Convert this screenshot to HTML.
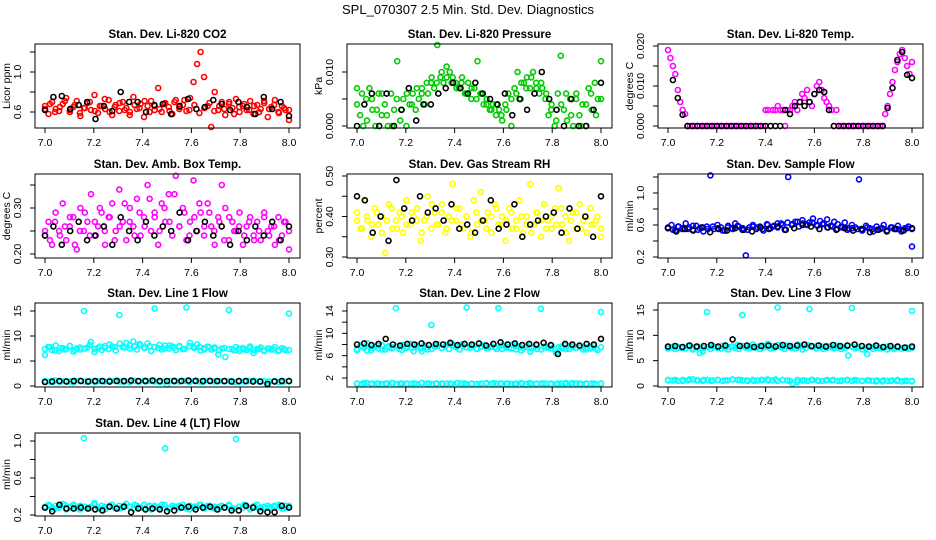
<!DOCTYPE html>
<html><head><meta charset="utf-8">
<style>
html,body{margin:0;padding:0;background:#fff;}
svg{display:block;font-family:"Liberation Sans",Arial,sans-serif;}
</style></head>
<body>
<svg id="chart" width="936" height="540" viewBox="0 0 936 540">
<text x="468" y="14" text-anchor="middle" font-size="13">SPL_070307  2.5 Min. Std. Dev. Diagnostics</text>
</svg>
<script>
// ---------- data ----------
const xTicks = [7.0, 7.2, 7.4, 7.6, 7.8, 8.0];
const xTickLabels = ["7.0", "7.2", "7.4", "7.6", "7.8", "8.0"];
const panelTitles = ["Stan. Dev. Li-820 CO2","Stan. Dev. Li-820 Pressure","Stan. Dev. Li-820 Temp.","Stan. Dev. Amb. Box Temp.","Stan. Dev. Gas Stream RH","Stan. Dev. Sample Flow","Stan. Dev. Line 1 Flow","Stan. Dev. Line 2 Flow","Stan. Dev. Line 3 Flow","Stan. Dev. Line 4 (LT) Flow"];
const yTitles = ["Licor ppm","kPa","degrees C","degrees C","percent","ml/min","ml/min","ml/min","ml/min","ml/min"];

const co2Ticks = [0.6,0.8,1.0,1.2];          const co2TickLabels = ["0.6","","1.0",""];
const presTicks = [0,0.005,0.010];           const presTickLabels = ["0.000","","0.010"];
const tempTicks = [0,0.005,0.010,0.015,0.020]; const tempTickLabels = ["0.000","","0.010","","0.020"];
const ambTicks = [0.20,0.25,0.30,0.35];      const ambTickLabels = ["0.20","","0.30",""];
const rhTicks = [0.30,0.35,0.40,0.45,0.50];  const rhTickLabels = ["0.30","","0.40","","0.50"];
const sfTicks = [0.2,0.4,0.6,0.8,1.0,1.2];   const sfTickLabels = ["0.2","","0.6","","1.0",""];
const l1Ticks = [0,5,10,15];                 const l1TickLabels = ["0","5","10","15"];
const l2Ticks = [2,4,6,8,10,12,14];          const l2TickLabels = ["2","","6","","10","","14"];
const l3Ticks = [0,5,10,15];                 const l3TickLabels = ["0","5","10","15"];
const l4Ticks = [0.2,0.4,0.6,0.8,1.0];       const l4TickLabels = ["0.2","","0.6","","1.0"];

const co2Red = [0.66,0.58,0.70,0.63,0.61,0.68,0.74,0.60,0.65,0.71,0.56,0.64,0.69,0.62,0.77,0.59,0.66,0.63,0.72,0.57,0.67,0.61,0.70,0.64,0.60,0.75,0.63,0.68,0.55,0.66,0.71,0.62,0.84,0.60,0.69,0.65,0.58,0.72,0.63,0.67,0.61,0.74,0.90,1.08,1.20,0.95,0.66,0.45,0.80,0.62,0.70,0.57,0.68,0.64,0.73,0.60,0.66,0.62,0.71,0.58,0.67,0.63,0.69,0.55,0.65,0.72,0.60,0.66,0.62,0.52];
const co2Red2 = [0.63,0.68,0.60,0.65,0.71,0.62,0.67,0.59,0.64,0.70,0.61,0.66,0.73,0.60,0.65,0.69,0.62,0.57,0.67,0.64,0.71,0.60,0.66,0.63,0.68,0.61,0.70,0.65,0.72,0.62,0.67,0.59,0.64,0.69,0.61,0.66,0.63,0.70,0.58,0.65,0.68,0.62,0.66,0.60,0.71,0.63,0.67,0.59,0.64,0.62];
const co2Black = [0.62,0.75,0.76,0.63,0.67,0.70,0.53,0.66,0.61,0.80,0.70,0.70,0.60,0.67,0.68,0.58,0.66,0.73,0.63,0.65,0.72,0.68,0.62,0.70,0.65,0.58,0.75,0.63,0.70,0.56];

const presGreen = [0.007,0.002,0.000,0.005,0.007,0.003,0.000,0.006,0.002,0.004,0.000,0.006,0.003,0.012,0.001,0.005,
0.000,0.004,0.006,0.003,0.005,0.007,0.004,0.006,0.008,0.007,0.015,0.009,0.008,0.011,0.010,0.009,
0.008,0.007,0.009,0.006,0.008,0.005,0.007,0.012,0.006,0.004,0.005,0.003,0.004,0.002,0.003,0.001,
0.004,0.006,0.000,0.007,0.010,0.005,0.008,0.009,0.007,0.010,0.008,0.006,0.007,0.005,0.002,0.004,
0.000,0.006,0.013,0.003,0.001,0.005,0.000,0.006,0.002,0.004,0.000,0.007,0.003,0.008,0.005,0.012];
const presGreen2 = [0.004,0.006,0.001,0.005,0.003,0.006,0.002,0.000,0.005,0.003,0.006,0.004,0.007,0.006,0.008,0.009,0.008,0.010,0.009,0.008,0.007,0.008,0.006,0.007,0.005,0.006,0.004,0.003,0.004,0.002,0.003,0.005,0.006,0.008,0.007,0.009,0.007,0.008,0.006,0.003,0.001,0.004,0.006,0.002,0.005,0.000,0.004,0.006,0.002,0.005];
const presBlack = [0.000,0.004,0.006,0.000,0.006,0.000,0.003,0.007,0.001,0.004,0.004,0.006,0.007,0.008,0.007,0.006,0.008,0.006,0.005,0.004,0.006,0.002,0.005,0.003,0.006,0.010,0.005,0.003,0.000,0.005,0.000,0.000,0.003,0.008];

const tempMagenta = [0.019,0.017,0.015,0.013,0.009,0.006,0.004,0.003,
0,0,0,0,0,0,0,0,0,0,0,0,0,0,0,0,0,0,0,0,0,0,0,0,0,0,0,0,0,0,0,0,
0.004,0.004,0,0.004,0.004,0.005,0.004,0.004,0,0.004,0.004,
0.005,0.006,0.004,0.006,0.008,0.007,0.009,0.006,0.005,0.008,0.010,0.011,0.009,0.007,0.006,0.005,0.004,0,0.004,
0,0,0,0,0,0,0,0,0,0,0,0,0,0,0,0,0,0,0,
0.003,0.005,0.008,0.011,0.014,0.016,0.018,0.019,0.017,0.015,0.013,0.016];
const tempBlack = [null,0.0115,0.007,0.0028,0,0,0,0,0,0,0,0,0,0,0,0,0,0,0,0,0,0,0,0,
0.004,0.003,0.005,0.006,0.005,0.006,0.008,0.009,0.0085,0.004,
0,0,0,0,0,0,0,0,0,0,0,
0.0045,0.0095,0.0165,0.0185,0.0128,0.012];

const ambMagenta = [0.24,0.27,0.22,0.29,0.25,0.31,0.23,0.26,0.28,0.21,0.30,0.25,0.27,0.33,0.24,0.26,0.29,0.22,0.28,0.31,0.25,0.34,0.27,0.23,0.30,0.26,0.32,0.24,0.28,0.35,0.25,0.29,0.22,0.31,0.27,0.33,0.24,0.37,0.26,0.30,0.23,0.27,0.36,0.25,0.29,0.24,0.31,0.26,0.22,0.28,0.35,0.30,0.23,0.27,0.25,0.29,0.22,0.26,0.28,0.24,0.27,0.23,0.29,0.25,0.26,0.22,0.28,0.24,0.27,0.21];
const ambMagenta2 = [0.25,0.23,0.27,0.24,0.26,0.28,0.22,0.25,0.29,0.24,0.27,0.30,0.25,0.28,0.23,0.26,0.31,0.27,0.24,0.29,0.26,0.32,0.28,0.25,0.30,0.27,0.33,0.26,0.29,0.24,0.28,0.31,0.26,0.29,0.25,0.27,0.23,0.28,0.25,0.26,0.24,0.27,0.23,0.25,0.28,0.24,0.26,0.23,0.27,0.25];
const ambBlack = [0.24,0.26,0.22,0.25,0.27,0.23,0.24,0.26,0.22,0.28,0.25,0.23,0.27,0.24,0.26,0.25,0.29,0.23,0.25,0.27,0.24,0.26,0.22,0.25,0.23,0.26,0.24,0.27,0.23,0.26];

const rhYellow = [0.41,0.37,0.44,0.39,0.35,0.42,0.38,0.40,0.31,0.43,0.37,0.39,0.41,0.36,0.44,0.38,0.40,0.42,0.34,0.39,0.45,0.37,0.41,0.38,0.43,0.36,0.40,0.48,0.39,0.42,0.37,0.40,0.35,0.44,0.38,0.46,0.39,0.41,0.36,0.43,0.38,0.40,0.34,0.42,0.37,0.39,0.44,0.36,0.40,0.48,0.38,0.41,0.35,0.43,0.39,0.37,0.42,0.47,0.38,0.40,0.34,0.41,0.37,0.43,0.39,0.36,0.42,0.38,0.40,0.35];
const rhYellow2 = [0.39,0.37,0.40,0.38,0.41,0.36,0.39,0.42,0.37,0.40,0.38,0.41,0.39,0.36,0.40,0.43,0.38,0.41,0.37,0.39,0.42,0.38,0.40,0.36,0.41,0.39,0.37,0.40,0.42,0.38,0.39,0.41,0.37,0.40,0.38,0.36,0.41,0.39,0.37,0.40,0.38,0.42,0.36,0.39,0.41,0.37,0.40,0.38,0.39,0.37];
const rhBlack = [0.45,0.44,0.36,0.40,0.34,0.49,0.42,0.39,0.45,0.41,0.42,0.39,0.43,0.37,0.38,0.36,0.39,0.44,0.37,0.38,0.43,0.35,0.38,0.39,0.40,0.41,0.36,0.42,0.37,0.40,0.35,0.45];

const sfBlue = [0.56,0.60,0.53,0.58,0.55,0.62,0.57,0.54,0.59,0.56,0.52,0.58,1.22,0.55,0.60,0.57,0.53,0.59,0.56,0.62,0.58,0.54,0.22,0.57,0.60,0.55,0.58,0.53,0.61,0.56,0.59,0.57,0.62,0.54,1.20,0.60,0.64,0.58,0.66,0.61,0.63,0.68,0.60,0.65,0.62,0.67,0.59,0.64,0.61,0.58,0.63,0.56,0.60,0.57,1.17,0.54,0.59,0.56,0.52,0.58,0.55,0.60,0.53,0.57,0.55,0.59,0.52,0.56,0.58,0.33];
const sfBlue2 = [0.57,0.54,0.58,0.56,0.55,0.59,0.54,0.57,0.55,0.58,0.56,0.53,0.57,0.55,0.59,0.56,0.54,0.58,0.57,0.55,0.60,0.58,0.62,0.60,0.63,0.61,0.64,0.62,0.60,0.63,0.59,0.61,0.57,0.58,0.55,0.57,0.54,0.56,0.55,0.53,0.57,0.55,0.54,0.56,0.53,0.57,0.55,0.54,0.56,0.55];
const sfBlack = [0.56,0.52,0.55,0.53,0.57,0.51,0.55,0.53,0.56,0.54,0.52,0.57,0.55,0.58,0.54,0.56,0.60,0.58,0.55,0.57,0.54,0.56,0.53,0.55,0.51,0.54,0.52,0.55,0.53,0.56];

const l1CyanHigh = [6.2,7.8,7.2,8.1,7.0,7.6,7.4,8.0,6.9,7.5,7.3,15.0,7.7,8.8,6.8,7.6,7.2,8.0,7.4,7.9,7.1,14.2,7.8,8.6,7.5,8.9,7.3,8.2,7.7,8.5,7.0,15.5,7.6,7.3,8.1,7.5,7.9,7.2,8.0,7.4,15.7,8.6,7.8,8.3,7.1,7.6,7.9,7.3,7.7,6.3,7.5,5.8,15.2,7.4,7.8,7.0,7.6,7.2,7.9,6.6,7.4,7.7,7.1,7.5,7.3,7.8,7.0,7.6,7.2,14.5];
const l1CyanHigh2 = [7.4,7.8,7.1,7.6,7.3,8.0,7.2,7.7,7.5,8.2,7.4,7.9,7.6,8.3,7.8,8.5,7.7,8.1,7.9,8.4,7.6,8.0,7.8,8.2,7.5,8.1,7.7,7.9,7.4,8.0,7.6,7.8,7.3,7.7,7.5,7.2,7.6,7.4,7.1,7.5,7.3,7.6,7.2,7.4,7.0,7.5,7.3,7.1,7.4,7.2];
const l1CyanLow = [0.9,0.8,1.0,0.9,0.7,1.0,0.9,0.8,1.0,0.9,1.1,0.8,1.0,0.9,0.9,1.0,0.8,0.3,0.9,1.0,0.9,1.1,0.8,1.0,0.9,0.9,1.0,0.8,0.9,1.0,0.9,0.8,1.0,0.9,0.9];
const l1CyanLow2 = [1.0,0.9,1.1,0.8,1.0,0.9,1.0,1.1,0.9,1.0,0.8,1.0,0.9,1.1,1.0,0.9,1.0,0.8,1.0,0.9,1.1,1.0,0.9,1.0,0.9,1.0,1.1,0.9,1.0,0.8,1.0,0.9,1.0,1.1,0.9,1.0,0.9,1.0,0.8,1.0,0.9,1.0,1.1,0.9,1.0,0.9,1.0,0.8,0.9,1.0];
const l1Black = [0.8,0.9,1.0,0.9,1.0,1.0,0.9,1.0,1.0,0.9,1.0,1.0,1.1,1.0,1.0,1.1,1.0,1.0,1.0,1.0,1.1,1.0,1.0,1.0,1.0,1.0,0.9,1.0,1.0,0.9,0.9,0.4,0.9,1.0,1.0];

const l2CyanHigh = [7.0,7.8,7.4,8.2,6.9,7.6,7.3,7.9,7.1,7.7,7.5,14.5,7.2,7.9,7.4,8.1,6.8,7.6,7.3,7.8,7.1,11.5,7.6,8.0,7.4,7.7,7.2,7.9,7.5,7.1,7.7,14.6,7.4,7.8,7.2,7.6,7.9,7.3,7.7,7.5,14.5,7.2,7.8,7.4,8.0,7.1,7.6,7.3,7.9,6.7,7.5,7.2,14.4,7.6,7.4,7.8,7.0,7.5,7.3,7.9,7.2,7.6,7.4,7.7,7.1,7.5,7.3,7.8,7.0,13.8];
const l2CyanHigh2 = [7.2,7.6,6.9,7.4,7.8,7.1,7.5,7.3,7.7,7.0,7.6,7.4,7.9,6.8,7.5,7.2,7.7,7.4,7.9,8.2,7.6,8.0,7.5,7.8,7.3,7.7,7.4,7.6,7.2,7.8,7.5,7.3,7.7,6.9,7.6,7.4,7.8,7.1,7.5,7.3,6.5,7.6,7.2,7.8,7.4,7.5,7.1,7.7,7.3,7.5];
const l2CyanLow = [1.0,1.1,0.9,1.0,1.0,1.1,1.0,0.9,1.0,1.1,1.0,1.0,0.9,1.0,1.1,1.0,1.0,0.9,1.0,1.1,1.0,1.0,0.9,1.0,1.1,1.0,1.0,0.9,1.0,1.0,1.1,1.0,0.9,1.0,1.0];
const l2CyanLow2 = [1.0,0.9,1.1,1.0,1.0,0.9,1.0,1.1,0.9,1.0,1.0,1.0,0.9,1.1,1.0,0.9,1.0,1.0,1.0,0.9,1.1,1.0,0.9,1.0,0.9,1.0,1.1,0.9,1.0,1.0,1.0,0.9,1.0,1.1,0.9,1.0,0.9,1.0,1.0,1.0,0.9,1.0,1.1,0.9,1.0,0.9,1.0,1.0,0.9,1.0];
const l2Black = [8.0,8.2,7.9,8.1,9.0,8.0,7.8,8.1,8.0,8.2,7.9,8.1,8.0,8.3,7.9,8.1,8.0,8.2,7.8,8.1,8.4,8.0,8.2,7.9,8.1,8.0,8.3,7.9,6.3,8.1,8.0,7.8,8.1,8.0,9.0];

const l3CyanHigh = [7.4,7.6,7.3,7.7,7.5,7.4,7.8,7.2,7.6,6.5,7.5,14.6,7.3,7.7,7.5,7.4,7.6,7.2,7.8,7.5,7.3,14.0,7.6,7.4,7.7,7.5,7.3,7.6,7.8,7.4,7.5,15.5,7.6,7.3,7.7,7.5,7.4,7.6,7.2,7.5,15.2,7.7,7.4,7.6,7.3,7.5,7.8,7.4,7.6,7.3,7.5,6.0,15.4,7.4,7.6,7.2,7.5,7.7,7.3,7.5,7.4,7.6,7.2,7.5,7.3,7.6,7.4,7.5,7.3,14.8];
const l3CyanHigh2 = [7.6,7.8,7.5,7.7,7.9,7.6,7.8,6.8,7.7,7.9,7.6,8.0,7.7,7.8,8.1,7.9,7.6,8.2,7.8,8.0,8.3,7.9,8.1,7.7,8.0,7.8,8.2,7.9,8.1,7.7,8.0,7.8,7.9,7.6,8.0,7.7,7.9,7.8,7.6,7.9,6.3,7.7,7.9,7.6,7.8,7.5,7.7,7.4,7.6,7.5];
const l3CyanLow = [1.1,1.2,1.0,1.3,1.1,1.2,1.0,1.2,1.1,1.3,1.2,1.1,1.0,1.2,1.1,1.3,1.2,1.0,0.8,1.1,1.2,1.0,1.1,1.2,1.0,1.1,1.2,1.0,1.1,0.9,1.1,1.0,1.2,1.0,0.9];
const l3CyanLow2 = [1.2,1.1,1.0,1.2,1.1,1.3,1.1,1.0,1.2,1.1,1.2,1.0,1.1,1.3,1.2,1.1,1.0,1.2,1.1,1.2,1.3,1.1,1.0,1.2,1.1,0.5,1.2,1.1,1.0,1.2,1.1,1.0,1.2,1.1,1.0,1.1,1.2,1.0,1.1,1.0,1.1,1.0,1.1,0.9,1.0,1.1,1.0,0.9,1.0,1.0];
const l3Black = [7.8,7.9,7.7,8.0,7.8,7.9,8.1,7.8,8.0,9.2,7.9,8.0,7.7,7.9,8.0,7.8,8.1,7.9,8.0,8.2,7.9,8.0,7.8,8.1,7.9,8.0,8.2,7.9,7.8,8.0,7.7,7.9,7.8,7.6,7.8];

const l4Cyan = [0.29,0.31,0.27,0.30,0.28,0.32,0.26,0.29,0.31,0.28,0.30,1.03,0.27,0.29,0.33,0.28,0.30,0.26,0.29,0.31,0.27,0.30,0.28,0.32,0.29,0.27,0.30,0.28,0.31,0.29,0.26,0.30,0.28,0.31,0.92,0.27,0.30,0.29,0.28,0.31,0.27,0.30,0.28,0.29,0.31,0.27,0.30,0.28,0.29,0.26,0.30,0.28,0.31,0.27,1.02,0.29,0.28,0.30,0.26,0.29,0.31,0.28,0.27,0.30,0.28,0.29,0.31,0.27,0.30,0.28];
const l4Cyan2 = [0.28,0.30,0.27,0.29,0.31,0.28,0.30,0.26,0.29,0.28,0.31,0.27,0.29,0.30,0.28,0.27,0.30,0.29,0.31,0.28,0.27,0.30,0.29,0.28,0.31,0.27,0.29,0.30,0.28,0.26,0.29,0.31,0.28,0.30,0.27,0.29,0.28,0.30,0.27,0.29,0.31,0.28,0.30,0.27,0.29,0.28,0.30,0.29,0.27,0.30];
const l4Black = [0.28,0.24,0.31,0.27,0.27,0.28,0.27,0.26,0.25,0.29,0.27,0.29,0.23,0.27,0.26,0.27,0.26,0.24,0.25,0.28,0.29,0.26,0.28,0.29,0.26,0.28,0.25,0.25,0.30,0.28,0.24,0.23,0.23,0.30,0.28];

// ---------- layout (not data) ----------
const NS = "http://www.w3.org/2000/svg";
const svg = document.getElementById("chart");
const colLeft = [35, 347, 658];
const BOX_W = 265;
const rowBox = [[44,128],[174,258],[303,387],[433,516]];
const panels = [
  {c:0,r:0,cal:[0.6,112,1.0,72], ticks:co2Ticks, labels:co2TickLabels, series:[[co2Red,"#ff0000"],[co2Red2,"#ff0000"],[co2Black,"#000000"]]},
  {c:1,r:0,cal:[0,126,0.010,72], ticks:presTicks, labels:presTickLabels, series:[[presGreen,"#00cc00"],[presGreen2,"#00cc00"],[presBlack,"#000000"]]},
  {c:2,r:0,cal:[0,126,0.020,46], ticks:tempTicks, labels:tempTickLabels, series:[[tempMagenta,"#ff00ff"],[tempBlack,"#000000"]]},
  {c:0,r:1,cal:[0.20,254,0.30,208], ticks:ambTicks, labels:ambTickLabels, series:[[ambMagenta,"#ff00ff"],[ambMagenta2,"#ff00ff"],[ambBlack,"#000000"]]},
  {c:1,r:1,cal:[0.30,257,0.50,176], ticks:rhTicks, labels:rhTickLabels, series:[[rhYellow,"#ffff00"],[rhYellow2,"#ffff00"],[rhBlack,"#000000"]]},
  {c:2,r:1,cal:[0.2,257,1.0,193], ticks:sfTicks, labels:sfTickLabels, series:[[sfBlue,"#0000ff"],[sfBlue2,"#0000ff"],[sfBlack,"#000000"]]},
  {c:0,r:2,cal:[0,386,15,311], ticks:l1Ticks, labels:l1TickLabels, series:[[l1CyanHigh,"#00ffff"],[l1CyanHigh2,"#00ffff"],[l1CyanLow,"#00ffff"],[l1CyanLow2,"#00ffff"],[l1Black,"#000000"]]},
  {c:1,r:2,cal:[2,378,14,311], ticks:l2Ticks, labels:l2TickLabels, series:[[l2CyanHigh,"#00ffff"],[l2CyanHigh2,"#00ffff"],[l2CyanLow,"#00ffff"],[l2CyanLow2,"#00ffff"],[l2Black,"#000000"]]},
  {c:2,r:2,cal:[0,386,15,310], ticks:l3Ticks, labels:l3TickLabels, series:[[l3CyanHigh,"#00ffff"],[l3CyanHigh2,"#00ffff"],[l3CyanLow,"#00ffff"],[l3CyanLow2,"#00ffff"],[l3Black,"#000000"]]},
  {c:0,r:3,cal:[0.2,515,1.0,441], ticks:l4Ticks, labels:l4TickLabels, series:[[l4Cyan,"#00ffff"],[l4Cyan2,"#00ffff"],[l4Black,"#000000"]]}
];

function mk(tag, attrs, parent){
  const e = document.createElementNS(NS, tag);
  for (const k in attrs) e.setAttribute(k, attrs[k]);
  parent.appendChild(e);
  return e;
}

panels.forEach((p, pi) => {
  const L = colLeft[p.c], R = L + BOX_W, T = rowBox[p.r][0], B = rowBox[p.r][1];
  const xScale = v => (L + 10) + (v - 7.0) * 244;
  const [v1,p1,v2,p2] = p.cal;
  const yScale = v => p1 + (v - v1) * (p2 - p1) / (v2 - v1);
  const g = mk("g", {}, svg);
  
  

  const title = mk("text", {x:(L+R)/2, y:T-6, "text-anchor":"middle", "font-size":"11.5", "font-weight":"bold"}, g);
  title.textContent = panelTitles[pi];
  
  

  p.series.forEach((s, si) => {
    const sg = mk("g", {fill:"none", stroke:s[1], "stroke-width":"1.6"}, g);
    
    
    const vals = s[0], n = vals.length;
    vals.forEach((v, i) => {
      if (v === null) return;
      const t = 7.0 + i / (n - 1);
      const c = mk("circle", {cx:xScale(t).toFixed(1), cy:yScale(v).toFixed(1), r:"2.5"}, sg);
      
      
    });
  });

  const box = mk("rect", {x:L, y:T, width:BOX_W, height:B-T, fill:"none", stroke:"#000", "stroke-width":"1"}, g);
  
  

  const xa = mk("g", {}, g);
  
  
  mk("line", {x1:xScale(xTicks[0]), x2:xScale(xTicks[xTicks.length-1]), y1:B, y2:B, stroke:"#000"}, xa);
  xTicks.forEach((t, i) => {
    const x = xScale(t);
    mk("line", {x1:x, x2:x, y1:B, y2:B+5, stroke:"#000"}, xa);
    const tl = mk("text", {x:x, y:B+18, "text-anchor":"middle", "font-size":"10.5"}, xa);
    tl.textContent = xTickLabels[i];
    
    
  });

  const ya = mk("g", {}, g);
  
  
  p.ticks.forEach((t, i) => {
    const y = yScale(t);
    mk("line", {x1:L-5, x2:L, y1:y, y2:y, stroke:"#000"}, ya);
    if (p.labels[i]) {
      const tl = mk("text", {x:0, y:0, transform:`translate(${L-14},${y}) rotate(-90)`, "text-anchor":"middle", "font-size":"10.5"}, ya);
      tl.textContent = p.labels[i];
      
      
    }
  });
  const yt = mk("text", {x:0, y:0, transform:`translate(${L-25},${(T+B)/2}) rotate(-90)`, "text-anchor":"middle", "font-size":"10.5"}, ya);
  yt.textContent = yTitles[pi];
  
  
});
</script>
</body></html>
